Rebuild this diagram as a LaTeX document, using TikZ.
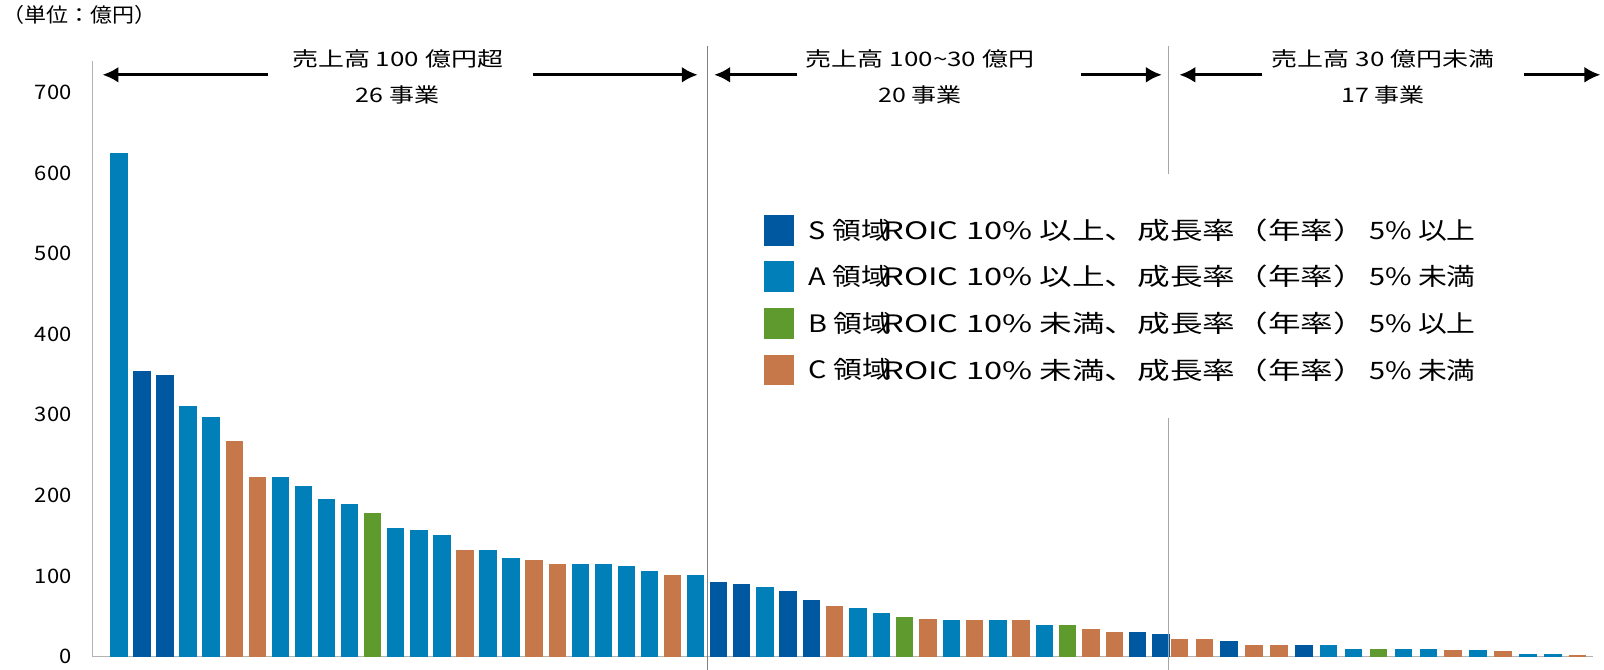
\documentclass[tikz,border=0pt]{standalone}
\usepackage{fontspec}
\setmainfont{Noto Sans CJK JP}
\usetikzlibrary{arrows.meta}
\definecolor{cS}{HTML}{0058A0}
\definecolor{cA}{HTML}{007FB9}
\definecolor{cB}{HTML}{5E9A2E}
\definecolor{cC}{HTML}{C6784A}
\newcommand{\mybars}[3]{%
  \foreach \v/\c [count=\i from 0] in {#3}{%
    \fill[\c] ({#1+\i*#2-8.5},641) rectangle ({#1+\i*#2+8.5},{641-\v*0.787});%
  }}
\newcommand{\wide}[2]{\scalebox{#1}[1]{#2}}
\begin{document}
\begin{tikzpicture}[x=1.0246pt,y=-1.0246pt,
  lbl/.style={font=\fontsize{20}{23}\selectfont,inner sep=0pt},
  lg/.style={font=\fontsize{24}{27}\selectfont,inner sep=0pt,anchor=west},
  arr/.style={line width=3pt,-{Latex[length=16pt,width=16pt]}},
  divl/.style={draw=gray,line width=0.8pt}]
\useasboundingbox (0,0) rectangle (1565.5,653);
\draw[gray!60,line width=0.8pt] (90,641) -- (1555,641);
\draw[gray!60,line width=0.8pt] (90,60) -- (90,641);
\foreach \v in {0,100,...,700}{
  \node[lbl,anchor=east] (t\v) at (70,{641-\v*0.787}) {\wide{1.1}{\v}};
}
\node[lbl,anchor=west] (unit) at (2,15) {\wide{1.1}{（単位：億円）}};
\mybars{116}{22.52}{625/cA,355/cS,350/cS,311/cA,297/cA,268/cC,223/cC,223/cA,212/cA,196/cA,189/cA,178/cB,160/cA,157/cA,151/cA,133/cC,133/cA,123/cA,120/cC,115/cC,115/cA,115/cA,113/cA,106/cA,101/cC,101/cA}
\mybars{701}{22.74}{93/cS,90/cS,86/cA,81/cS,70/cS,63/cC,60/cA,54/cA,49/cB,47/cC,45/cA,45/cC,45/cA,45/cC,40/cA,40/cB,35/cC,31/cC,31/cS,28/cS}
\mybars{1151}{24.3}{22/cC,22/cC,19/cS,15/cC,15/cC,15/cS,15/cA,10/cA,10/cB,10/cA,10/cA,8/cC,8/cA,7/cC,4/cA,4/cA,2/cC}
\draw[divl] (690,45) -- (690,655);
\draw[divl,gray!70] (1140,45) -- (1140,170);
\draw[divl,gray!70] (1140,408) -- (1140,655);
\node[lbl] (h1) at (388,57) {\wide{1.3}{売上高 100 億円超}};
\node[lbl] (n1) at (388,93) {\wide{1.25}{26 事業}};
\node[lbl] (h2) at (898,57) {\wide{1.3}{売上高 100\char"007E 30 億円}};
\node[lbl] (n2) at (898,93) {\wide{1.25}{20 事業}};
\node[lbl] (h3) at (1350,57) {\wide{1.3}{売上高 30 億円未満}};
\node[lbl] (n3) at (1350,93) {\wide{1.25}{17 事業}};
\coordinate (a1l) at (100,73); \coordinate (a1r) at (681,73);
\coordinate (a2l) at (697,73); \coordinate (a2r) at (1134,73);
\coordinate (a3l) at (1151,73); \coordinate (a3r) at (1562,73);
\draw[arr] (262,73) -- (a1l); \draw[arr] (520,73) -- (a1r);
\draw[arr] (778,73) -- (a2l); \draw[arr] (1055,73) -- (a2r);
\draw[arr] (1232,73) -- (a3l); \draw[arr] (1487,73) -- (a3r);
\foreach \c/\y/\s/\t/\r [count=\k] in {cS/225/S/{ROIC 10\% 以上、成長率（年率）}/{5\% 以上},
  cA/270/A/{ROIC 10\% 以上、成長率（年率）}/{5\% 未満},
  cB/316/B/{ROIC 10\% 未満、成長率（年率）}/{5\% 以上},
  cC/361/C/{ROIC 10\% 未満、成長率（年率）}/{5\% 未満}}{
  \fill[\c] (746,{\y-15}) rectangle (775,{\y+15});
  \node[lg] (ls\k) at (789,\y) {\wide{1.2}{\s\ 領域}};
  \node[lg] (lg\k) at (862,\y) {\wide{1.36}{\t}};
  \node[lg] (lr\k) at (1336,\y) {\wide{1.2}{\r}};
}
\end{tikzpicture}
\end{document}
